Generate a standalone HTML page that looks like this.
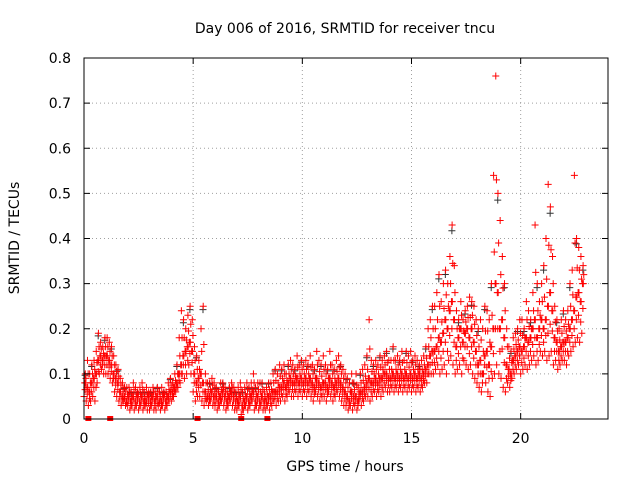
<!DOCTYPE html>
<html><head><meta charset="utf-8"><style>
body{margin:0;background:#fff}
svg{display:block;font-family:"DejaVu Sans","Liberation Sans",sans-serif}
</style></head><body>
<svg id="chart" width="640" height="480" xmlns="http://www.w3.org/2000/svg">
<text x="345" y="33" font-size="14" text-anchor="middle">Day 006 of 2016, SRMTID for receiver tncu</text>
<text x="345" y="471" font-size="14" text-anchor="middle">GPS time / hours</text>
<text x="19" y="238" font-size="14" text-anchor="middle" transform="rotate(-90 19 238)">SRMTID / TECUs</text>
<g id="grid"></g><g id="marks"></g><g id="axes"></g>
</svg>
<script>
const xTicks=[0,5,10,15,20];
const yTicks=[0,0.1,0.2,0.3,0.4,0.5,0.6,0.7,0.8];
const yTickLabels=["0","0.1","0.2","0.3","0.4","0.5","0.6","0.7","0.8"];
const lo=[0.05,0.04,0.03,0.04,0.05,0.04,0.08,0.1,0.11,0.1,
0.1,0.1,0.09,0.08,0.06,0.05,0.04,0.03,0.04,0.03,
0.03,0.02,0.03,0.02,0.03,0.02,0.03,0.02,0.03,0.02,
0.02,0.03,0.02,0.02,0.03,0.02,0.03,0.02,0.03,0.04,
0.04,0.05,0.06,0.07,0.08,0.1,0.09,0.1,0.12,0.1,
0.06,0.04,0.05,0.05,0.04,0.03,0.04,0.03,0.04,0.03,
0.03,0.02,0.03,0.04,0.03,0.02,0.03,0.04,0.03,0.02,
0.02,0.03,0.01,0.02,0.03,0.02,0.03,0.04,0.02,0.03,
0.02,0.03,0.02,0.02,0.03,0.02,0.03,0.04,0.03,0.04,
0.04,0.05,0.04,0.05,0.06,0.05,0.05,0.06,0.05,0.06,
0.05,0.06,0.05,0.06,0.05,0.04,0.06,0.05,0.04,0.05,
0.05,0.04,0.06,0.05,0.04,0.05,0.06,0.05,0.04,0.03,
0.03,0.02,0.03,0.02,0.03,0.02,0.04,0.03,0.04,0.05,
0.05,0.04,0.05,0.06,0.05,0.06,0.05,0.06,0.07,0.06,
0.06,0.07,0.06,0.07,0.06,0.07,0.06,0.07,0.06,0.07,
0.06,0.07,0.06,0.07,0.06,0.07,0.08,0.08,0.1,0.1,
0.1,0.11,0.12,0.1,0.11,0.12,0.1,0.13,0.14,0.12,
0.1,0.11,0.12,0.1,0.13,0.12,0.11,0.12,0.1,0.09,
0.08,0.07,0.06,0.1,0.08,0.06,0.05,0.09,0.1,0.12,
0.1,0.09,0.07,0.06,0.08,0.07,0.09,0.1,0.11,0.12,
0.1,0.11,0.12,0.11,0.12,0.13,0.14,0.12,0.13,0.15,
0.14,0.15,0.13,0.14,0.15,0.12,0.13,0.11,0.12,0.13,
0.13,0.12,0.14,0.15,0.16,0.17,0.18,0.17,0.19];
const mid=[0.08,0.07,0.06,0.08,0.09,0.1,0.13,0.14,0.13,0.14,
0.14,0.13,0.12,0.1,0.09,0.08,0.06,0.05,0.05,0.04,
0.05,0.04,0.05,0.04,0.05,0.04,0.05,0.04,0.04,0.05,
0.04,0.05,0.04,0.05,0.04,0.04,0.05,0.04,0.05,0.06,
0.06,0.07,0.08,0.1,0.12,0.14,0.15,0.16,0.17,0.15,
0.1,0.08,0.09,0.1,0.08,0.06,0.05,0.05,0.06,0.05,
0.05,0.04,0.05,0.06,0.05,0.04,0.05,0.06,0.05,0.04,
0.04,0.05,0.03,0.04,0.05,0.04,0.05,0.06,0.04,0.05,
0.04,0.05,0.04,0.04,0.05,0.05,0.06,0.06,0.06,0.07,
0.07,0.08,0.07,0.08,0.09,0.08,0.08,0.09,0.08,0.09,
0.08,0.09,0.08,0.09,0.08,0.07,0.09,0.08,0.07,0.08,
0.08,0.07,0.09,0.08,0.07,0.08,0.09,0.08,0.07,0.06,
0.05,0.04,0.06,0.05,0.05,0.04,0.06,0.06,0.07,0.08,
0.09,0.08,0.08,0.09,0.08,0.09,0.09,0.1,0.1,0.09,
0.09,0.1,0.09,0.1,0.09,0.1,0.09,0.1,0.09,0.1,
0.09,0.1,0.09,0.1,0.09,0.1,0.11,0.12,0.14,0.15,
0.15,0.16,0.18,0.17,0.19,0.22,0.2,0.24,0.26,0.22,
0.16,0.18,0.2,0.17,0.19,0.2,0.18,0.2,0.17,0.15,
0.12,0.13,0.1,0.14,0.15,0.12,0.16,0.2,0.3,0.28,
0.2,0.22,0.18,0.12,0.11,0.1,0.13,0.14,0.15,0.16,
0.15,0.16,0.18,0.17,0.18,0.2,0.22,0.18,0.2,0.22,
0.2,0.22,0.25,0.28,0.24,0.18,0.17,0.15,0.16,0.17,
0.17,0.18,0.2,0.22,0.24,0.27,0.28,0.26,0.3];
const hi=[0.1,0.13,0.1,0.12,0.13,0.15,0.19,0.17,0.16,0.18,
0.18,0.17,0.16,0.14,0.12,0.11,0.09,0.08,0.07,0.07,
0.07,0.06,0.08,0.07,0.06,0.07,0.08,0.06,0.07,0.06,
0.06,0.07,0.06,0.07,0.06,0.07,0.06,0.06,0.08,0.09,
0.08,0.1,0.12,0.18,0.24,0.22,0.2,0.23,0.25,0.22,
0.16,0.14,0.13,0.2,0.25,0.1,0.08,0.08,0.09,0.08,
0.07,0.06,0.08,0.08,0.07,0.06,0.07,0.08,0.07,0.06,
0.07,0.08,0.06,0.07,0.08,0.07,0.08,0.1,0.07,0.08,
0.08,0.08,0.06,0.07,0.08,0.08,0.1,0.11,0.1,0.12,
0.11,0.12,0.1,0.12,0.13,0.12,0.11,0.14,0.12,0.13,
0.12,0.13,0.12,0.14,0.12,0.11,0.15,0.13,0.12,0.14,
0.12,0.11,0.15,0.12,0.11,0.13,0.14,0.12,0.11,0.1,
0.09,0.08,0.1,0.08,0.1,0.07,0.1,0.11,0.12,0.14,
0.22,0.13,0.12,0.13,0.12,0.14,0.13,0.14,0.15,0.13,
0.13,0.16,0.13,0.14,0.13,0.15,0.13,0.15,0.14,0.15,
0.13,0.14,0.13,0.12,0.13,0.14,0.16,0.2,0.22,0.25,
0.25,0.28,0.32,0.26,0.3,0.33,0.3,0.36,0.43,0.34,
0.24,0.22,0.26,0.22,0.24,0.25,0.27,0.26,0.25,0.22,
0.2,0.22,0.2,0.25,0.24,0.22,0.3,0.54,0.76,0.5,
0.44,0.36,0.3,0.2,0.16,0.15,0.18,0.19,0.2,0.22,
0.22,0.2,0.26,0.24,0.22,0.28,0.43,0.3,0.26,0.3,
0.34,0.4,0.52,0.47,0.36,0.25,0.22,0.2,0.22,0.24,
0.22,0.24,0.3,0.33,0.54,0.4,0.38,0.36,0.34];
const zeroTimes=[0.2,1.2,5.2,7.2,8.4];
const stepHours=0.1;

const L=84,R=608,T=58,B=419,xMax=24,yMax=0.8;
const xs=v=>L+v/xMax*(R-L);
const ys=v=>B-v/yMax*(B-T);
const NS="http://www.w3.org/2000/svg";
function mk(tag,parent){const e=document.createElementNS(NS,tag);parent.appendChild(e);return e;}
const grid=document.getElementById('grid'),marks=document.getElementById('marks'),axes=document.getElementById('axes');
xTicks.forEach(t=>{const x=xs(t);
 if(t>0){const g=mk('line',grid);g.setAttribute('x1',x);g.setAttribute('x2',x);g.setAttribute('y1',T);g.setAttribute('y2',B);g.setAttribute('stroke','#a0a0a0');g.setAttribute('stroke-dasharray','1,3');
 
 }
 const tx=mk('text',axes);tx.textContent=t;tx.setAttribute('x',x);tx.setAttribute('y',B+24);tx.setAttribute('font-size','14');tx.setAttribute('text-anchor','middle');
 
 
 [[B,B-6],[T,T+6]].forEach(p=>{const l=mk('line',axes);l.setAttribute('x1',x);l.setAttribute('x2',x);l.setAttribute('y1',p[0]);l.setAttribute('y2',p[1]);l.setAttribute('stroke','#000');
 
 });
});
yTicks.forEach((t,i)=>{const y=ys(t);
 if(t>0&&t<yMax){const g=mk('line',grid);g.setAttribute('x1',L);g.setAttribute('x2',R);g.setAttribute('y1',y);g.setAttribute('y2',y);g.setAttribute('stroke','#a0a0a0');g.setAttribute('stroke-dasharray','1,3');
 
 }
 const tx=mk('text',axes);tx.textContent=yTickLabels[i];tx.setAttribute('x',L-13);tx.setAttribute('y',y+5);tx.setAttribute('font-size','14');tx.setAttribute('text-anchor','end');
 
 
 [[L,L+6],[R,R-6]].forEach(p=>{const l=mk('line',axes);l.setAttribute('x1',p[0]);l.setAttribute('x2',p[1]);l.setAttribute('y1',y);l.setAttribute('y2',y);l.setAttribute('stroke','#000');
 
 });
});
const fr=mk('rect',axes);fr.setAttribute('x',L);fr.setAttribute('y',T);fr.setAttribute('width',R-L);fr.setAttribute('height',B-T);fr.setAttribute('fill','none');fr.setAttribute('stroke','#000');


function plus(t,v,color,name){const x=xs(t),y=ys(v);const p=mk('path',marks);
 p.setAttribute('d',`M${x-3.5},${y}H${x+3.5}M${x},${y-3.5}V${y+3.5}`);p.setAttribute('stroke',color);p.setAttribute('fill','none');
 
 }
hi.forEach((v,i)=>{if(i%3===0)plus(i*stepHours+0.05,v*0.97,'#333','black-series-point');});
[lo,mid,hi].forEach((arr,k)=>arr.forEach((v,i)=>{
 const t=i*stepHours;
 plus(t+k*0.03,v,'#f00','red-series-point');
 plus(t+0.05+k*0.02,(v+mid[i])/2,'#f00','red-series-point');
}));
zeroTimes.forEach(t=>{const r=mk('rect',marks);r.setAttribute('x',xs(t)-3);r.setAttribute('y',B-3);r.setAttribute('width',6);r.setAttribute('height',5);r.setAttribute('fill','#f00');
 
 });
</script>
</body></html>
